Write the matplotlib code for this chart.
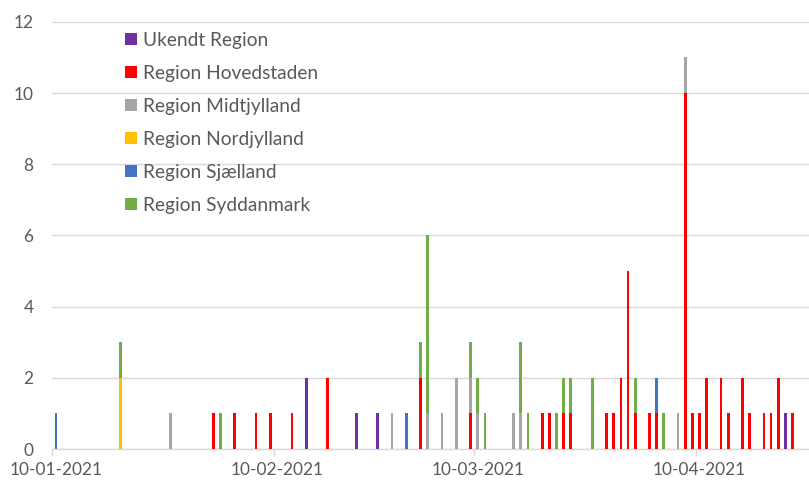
import matplotlib
matplotlib.use("Agg")
import matplotlib.pyplot as plt
import matplotlib.dates as mdates
import numpy as np
from matplotlib.patches import Patch

dates = ["2021-01-10", "2021-01-19", "2021-01-26", "2021-02-01", "2021-02-02", "2021-02-04",
         "2021-02-07", "2021-02-09", "2021-02-12", "2021-02-14", "2021-02-17", "2021-02-21",
         "2021-02-24", "2021-02-26", "2021-02-28", "2021-03-02", "2021-03-03", "2021-03-05",
         "2021-03-07", "2021-03-09", "2021-03-10", "2021-03-11", "2021-03-15", "2021-03-16",
         "2021-03-17", "2021-03-19", "2021-03-20", "2021-03-21", "2021-03-22", "2021-03-23",
         "2021-03-26", "2021-03-28", "2021-03-29", "2021-03-30", "2021-03-31", "2021-04-01",
         "2021-04-03", "2021-04-04", "2021-04-05", "2021-04-07", "2021-04-08", "2021-04-09",
         "2021-04-10", "2021-04-11", "2021-04-13", "2021-04-14", "2021-04-16", "2021-04-17",
         "2021-04-19", "2021-04-20", "2021-04-21", "2021-04-22", "2021-04-23"]

ukendt      = [0,0,0,0,0,0, 0,0,0,2,0,1, 1,0,0,0,0,0, 0,0,0,0,0,0, 0,0,0,0,0,0, 0,0,0,0,0,0, 0,0,0,0,0,0, 0,0,0,0,0,0, 0,0,0,1,0]
hovedstaden = [0,0,0,1,0,1, 1,1,1,0,2,0, 0,0,0,2,0,0, 0,1,0,0,0,0, 0,1,1,0,1,1, 0,1,1,2,5,1, 1,1,0,0,10,1, 1,2,2,1,2,1, 1,1,2,0,1]
midtjylland = [0,0,1,0,0,0, 0,0,0,0,0,0, 0,1,0,0,1,1, 2,1,1,0,1,1, 0,0,0,0,0,0, 0,0,0,0,0,0, 0,0,0,1,1,0, 0,0,0,0,0,0, 0,0,0,0,0]
nordjylland = [0,2,0,0,0,0, 0,0,0,0,0,0, 0,0,0,0,0,0, 0,0,0,0,0,0, 0,0,0,0,0,0, 0,0,0,0,0,0, 0,0,0,0,0,0, 0,0,0,0,0,0, 0,0,0,0,0]
sjaelland   = [1,0,0,0,0,0, 0,0,0,0,0,0, 0,0,1,0,0,0, 0,0,0,0,0,0, 0,0,0,0,0,0, 0,0,0,0,0,0, 0,1,0,0,0,0, 0,0,0,0,0,0, 0,0,0,0,0]
syddanmark  = [0,1,0,0,1,0, 0,0,0,0,0,0, 0,0,0,1,5,0, 0,1,1,1,0,2, 1,0,0,1,1,1, 2,0,0,0,0,1, 0,0,1,0,0,0, 0,0,0,0,0,0, 0,0,0,0,0]

series_names = ["Ukendt Region", "Region Hovedstaden", "Region Midtjylland",
                "Region Nordjylland", "Region Sjælland", "Region Syddanmark"]
series_values = [ukendt, hovedstaden, midtjylland, nordjylland, sjaelland, syddanmark]
colors = ["#7030A0", "#FF0000", "#A5A5A5", "#FFC000", "#4472C4", "#70AD47"]

tick_dates = ["2021-01-10", "2021-02-10", "2021-03-10", "2021-04-10"]
tick_labels = ["10-01-2021", "10-02-2021", "10-03-2021", "10-04-2021"]

plt.rcParams['font.family'] = ['Lato', 'DejaVu Sans']

fig = plt.figure(figsize=(8.09, 4.86), dpi=100)
ax = fig.add_axes([52.3/809, 1-449/486, 1-52.3/809, (449-21.8)/486])

x = mdates.date2num(np.array(dates, dtype="datetime64[D]"))
bottom = np.zeros(len(dates))
for name, vals, c in zip(series_names, series_values, colors):
    v = np.array(vals, dtype=float)
    ax.bar(x, v, width=0.38, bottom=bottom, color=c, label=name, linewidth=0, zorder=3)
    bottom += v

x0 = mdates.date2num(np.datetime64("2021-01-10"))
ax.set_xlim(x0 - 0.5, x0 + 105.3)
ax.set_ylim(0, 12)
ax.set_yticks(np.arange(0, 13, 2))
ax.yaxis.grid(True, color="#D9D9D9", linewidth=1.0, zorder=0)
ax.set_axisbelow(True)

tx = mdates.date2num(np.array(tick_dates, dtype="datetime64[D]"))
ax.set_xticks(tx)
ax.set_xticklabels(tick_labels)
ax.set_xticks(tx - 0.5, minor=True)
ax.tick_params(axis="x", which="major", length=0, pad=9, labelsize=12.4, labelcolor="#595959")
ax.tick_params(axis="x", which="minor", length=5, color="#D9D9D9", width=1)
ax.tick_params(axis="y", length=0, pad=13.5, labelsize=12.4, labelcolor="#595959")

for s in ["top", "right", "left"]:
    ax.spines[s].set_visible(False)
ax.spines["bottom"].set_color("#D9D9D9")
ax.spines["bottom"].set_linewidth(1.0)

handles = [Patch(facecolor=c, edgecolor="none") for c in colors]
leg = ax.legend(handles, series_names, loc="upper left",
                bbox_to_anchor=(125/809, 1-32/486), bbox_transform=fig.transFigure,
                frameon=False, fontsize=13.8, handlelength=0.62, handleheight=0.62,
                handletextpad=0.32, labelspacing=0.83, borderaxespad=0, borderpad=0)
for t in leg.get_texts():
    t.set_color("#595959")

fig.savefig("out.png", dpi=100)
